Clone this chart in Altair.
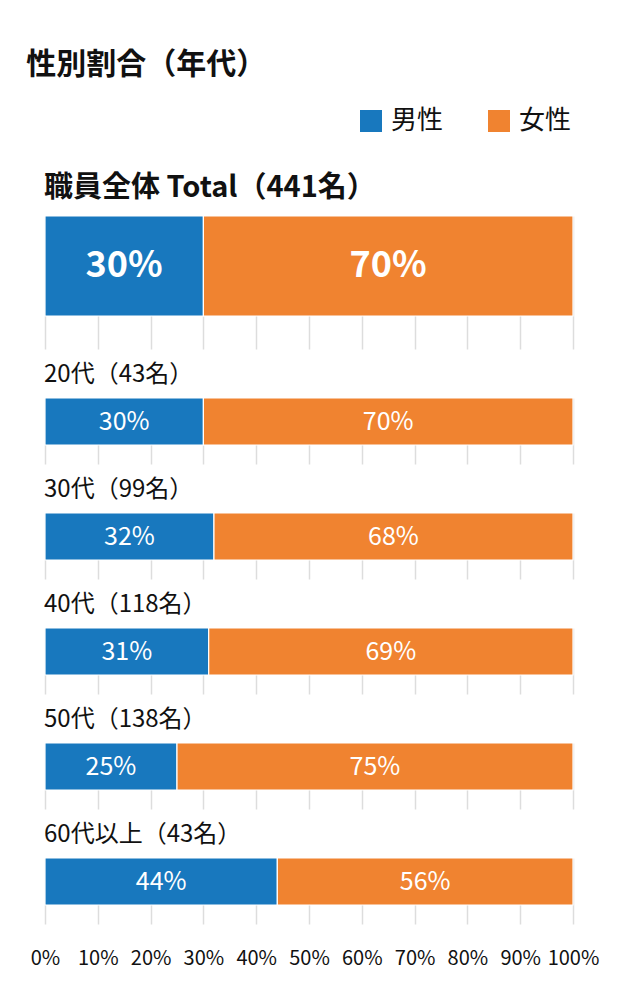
import altair as alt
import pandas as pd

groups = ["職員全体 Total（441名）", "20代（43名）", "30代（99名）", "40代（118名）", "50代（138名）", "60代以上（43名）"]
male = [30, 30, 32, 31, 25, 44]
female = [70, 70, 68, 69, 75, 56]
genders = ["男性", "女性"]
colors = ["#1878be", "#f08330"]
ticks = [0, 10, 20, 30, 40, 50, 60, 70, 80, 90, 100]

FONT = "Noto Sans CJK JP"

rows = []
for g, m, f in zip(groups, male, female):
    rows.append({"group": g, "gender": genders[0], "value": m, "order": 0})
    rows.append({"group": g, "gender": genders[1], "value": f, "order": 1})
df = pd.DataFrame(rows)

color = alt.Color("gender:N", scale=alt.Scale(domain=genders, range=colors),
                  sort=genders,
                  legend=alt.Legend(title=None, orient="none", legendX=313, legendY=-108,
                                    direction="horizontal", symbolType="square",
                                    symbolSize=484, symbolStrokeWidth=0, symbolOpacity=1,
                                    labelFontSize=26, labelFont=FONT, labelColor="#111",
                                    columnPadding=42, labelOffset=7))

panels = []
n = len(groups)
for i, g in enumerate(groups):
    first = i == 0
    last = i == n - 1
    bar_h = 100 if first else 47
    ext = 33 if first else 19
    base = alt.Chart(df[df.group == g]).transform_stack(
        stack="value", groupby=["group"], as_=["v0", "v1"],
        sort=[alt.SortField("order", order="ascending")]
    ).transform_calculate(mid="(datum.v0 + datum.v1) / 2", lab="datum.value + '%'")
    xaxis = alt.Axis(values=ticks, grid=True, gridColor="#dddddd", gridWidth=1.5,
                     domain=False, ticks=False, labels=last, title=None,
                     labelExpr="datum.value + '%'",
                     labelFontSize=20, labelFont=FONT, labelColor="#111",
                     labelPadding=24, labelOverlap=False, labelFlush=False)
    bars = base.mark_bar(stroke="white", strokeWidth=1.2).encode(
        x=alt.X("v0:Q", scale=alt.Scale(domain=[0, 100], nice=False), axis=xaxis),
        x2="v1:Q",
        y=alt.value(0),
        y2=alt.value(bar_h),
        color=color,
    )
    texts = base.mark_text(color="white", font=FONT,
                           fontSize=36 if first else 25,
                           fontWeight="bold" if first else "normal",
                           baseline="middle").encode(
        x="mid:Q",
        y=alt.value(bar_h / 2),
        text="lab:N",
    )
    title = alt.TitleParams(g, anchor="start", frame="group", font=FONT,
                            fontSize=29 if first else 24,
                            fontWeight="bold" if first else "normal",
                            color="#111", offset=12 if first else 10, dx=-1)
    panels.append(alt.layer(bars, texts).properties(width=528, height=bar_h + ext, title=title))

chart = alt.vconcat(*panels, spacing=14).properties(
    title=alt.TitleParams("性別割合（年代）", anchor="start", font=FONT, fontSize=30,
                          fontWeight="bold", color="#111", dx=-4, offset=28),
    padding={"left": 26, "top": 50, "right": 10, "bottom": 10},
).configure_view(stroke=None)

chart.save("out.html", embed_options={"renderer": "svg", "actions": False})
